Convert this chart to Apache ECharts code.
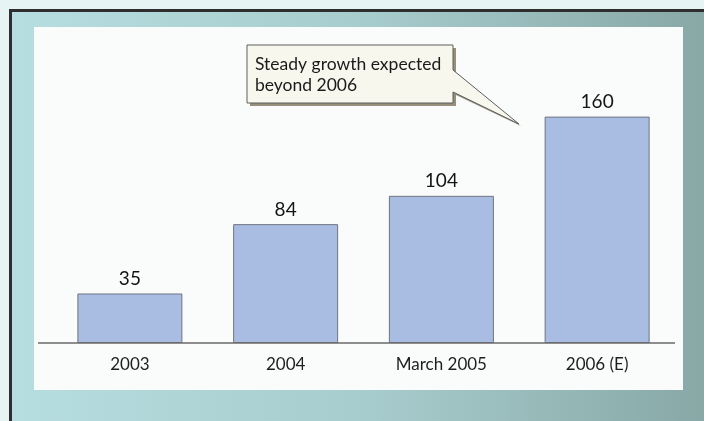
<!DOCTYPE html>
<html>
<head>
<meta charset="utf-8">
<script src="https://cdn.jsdelivr.net/npm/echarts@6/dist/echarts.min.js"></script>
<style>
html,body{margin:0;padding:0;background:#e6f4f4;}
#c{width:704px;height:421px;}
</style>
</head>
<body>
<div id="c"></div>
<script>
var categories = ['2003', '2004', 'March 2005', '2006 (E)'];
var values = [35, 84, 104, 160];
var calloutText = 'Steady growth expected\nbeyond 2006';

var FONT = 'Lato, "Open Sans", sans-serif';
var chart = echarts.init(document.getElementById('c'));

var option = {
  backgroundColor: '#e6f4f4',
  animation: false,
  grid: { left: 52, right: 29, top: 60, bottom: 78 },
  xAxis: {
    type: 'category',
    data: categories,
    axisLine: { show: false },
    axisTick: { show: false },
    axisLabel: { color: '#1e1e1e', fontSize: 17, fontFamily: FONT, margin: 13 }
  },
  yAxis: {
    type: 'value', min: 0, max: 200, show: false,
    splitLine: { show: false }
  },
  series: [{
    type: 'bar',
    data: values,
    barWidth: 105,
    z: 5,
    itemStyle: { color: '#a9bce2', borderColor: '#6f7480', borderWidth: 1 },
    label: {
      show: true, position: 'top', distance: 5,
      color: '#141414', fontSize: 19, fontFamily: FONT
    }
  }],
  graphic: [
    { type: 'rect', z: -10, silent: true,
      shape: { x: 10.5, y: 10.5, width: 720, height: 440 },
      style: {
        fill: { type: 'linear', x: 0, y: 0, x2: 1, y2: 0, colorStops: [
          { offset: 0, color: '#b6dde0' },
          { offset: 0.5, color: '#a7cccd' },
          { offset: 1, color: '#85a5a3' }
        ]},
        stroke: '#2e2e2e', lineWidth: 3
      }
    },
    { type: 'rect', z: -9, silent: true,
      shape: { x: 34, y: 27, width: 649, height: 363 },
      style: { fill: '#fafcfc' }
    },
    { type: 'line', z: 10, silent: true,
      shape: { x1: 38, y1: 343, x2: 675, y2: 343 },
      style: { stroke: '#6a6a6a', lineWidth: 1.5 }
    },
    { type: 'polygon', z: 50, silent: true,
      shape: { points: [[250,48],[456,48],[456,73],[521,126],[456,95],[456,106],[250,106]] },
      style: { fill: '#958f7c' }
    },
    { type: 'polygon', z: 51, silent: true,
      shape: { points: [[247,45],[453,45],[453,70],[519,124],[453,92],[453,103],[247,103]] },
      style: { fill: '#f7f7ee', stroke: '#5e5e5e', lineWidth: 1 }
    },
    { type: 'text', z: 52, silent: true,
      style: { x: 255, y: 54, text: calloutText, fill: '#1a1a1a', fontSize: 17.5,
        fontFamily: FONT, lineHeight: 21, textVerticalAlign: 'top' }
    }
  ]
};
chart.setOption(option);
</script>
</body>
</html>
